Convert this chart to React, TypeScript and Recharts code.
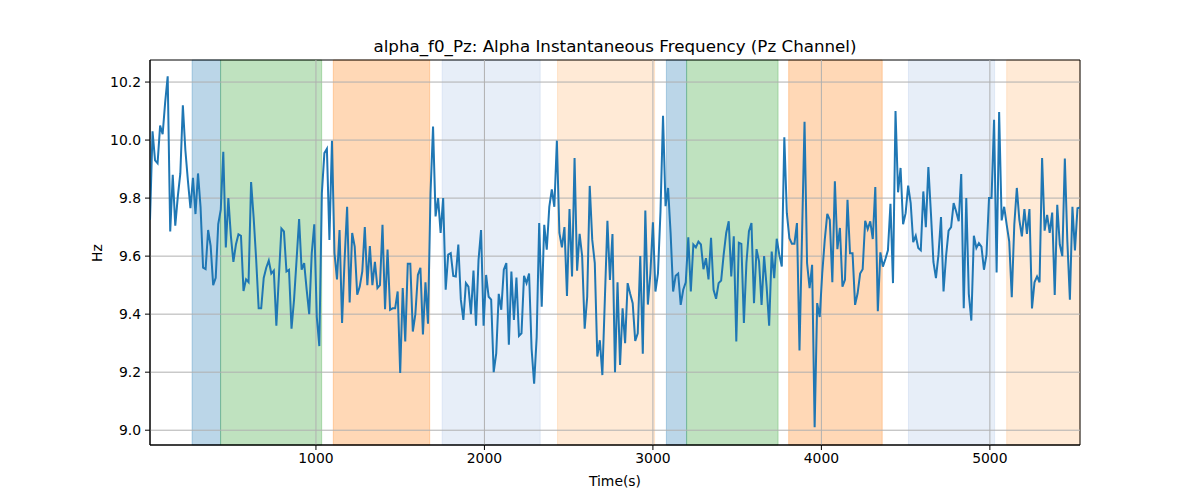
import React from "react";
import {
  LineChart,
  Line,
  XAxis,
  YAxis,
  ReferenceArea,
  ReferenceLine,
} from "recharts";

// alpha instantaneous frequency (Hz), sampled every 15 s from t = 15 s
const T0 = 15;
const STEP = 15;

const freqPart1 = [
  9.725, 10.03, 9.93, 9.92, 10.05, 10.02, 10.13, 10.22, 9.685, 9.88, 9.705, 9.805,
  9.885, 10.12, 9.965, 9.86, 9.765, 9.87, 9.745, 9.885, 9.77, 9.56, 9.555, 9.69,
  9.635, 9.5, 9.525, 9.71, 9.76, 9.96, 9.63, 9.8, 9.67, 9.58, 9.64, 9.675,
  9.67, 9.48, 9.52, 9.51, 9.855, 9.735, 9.59, 9.42, 9.42, 9.525, 9.56, 9.585,
];
const freqPart2 = [
  9.54, 9.55, 9.36, 9.53, 9.695, 9.685, 9.547, 9.553, 9.35, 9.45, 9.587, 9.728,
  9.553, 9.576, 9.484, 9.4, 9.61, 9.71, 9.39, 9.29, 9.817, 9.955, 9.97, 9.656,
  9.998, 9.61, 9.52, 9.69, 9.37, 9.587, 9.77, 9.44, 9.68, 9.633, 9.467, 9.495,
  9.547, 9.7, 9.5, 9.635, 9.5, 9.58, 9.49, 9.5, 9.708, 9.417, 9.623, 9.415,
];
const freqPart3 = [
  9.42, 9.42, 9.478, 9.197, 9.49, 9.306, 9.574, 9.574, 9.34, 9.4, 9.535, 9.56,
  9.33, 9.51, 9.367, 9.817, 10.047, 9.737, 9.8, 9.68, 9.8, 9.484, 9.605, 9.61,
  9.532, 9.53, 9.64, 9.45, 9.38, 9.507, 9.495, 9.4, 9.55, 9.36, 9.587, 9.69,
  9.36, 9.535, 9.46, 9.45, 9.2, 9.265, 9.47, 9.415, 9.553, 9.576, 9.295,
];
const freqPart4 = [
  9.547, 9.38, 9.526, 9.325, 9.334, 9.532, 9.507, 9.54, 9.28, 9.16, 9.32, 9.714,
  9.426, 9.708, 9.622, 9.77, 9.83, 9.77, 9.998, 9.68, 9.63, 9.7, 9.463, 9.762,
  9.53, 9.938, 9.55, 9.677, 9.6, 9.35, 9.46, 9.842, 9.656, 9.576, 9.254, 9.31,
  9.19, 9.455, 9.722, 9.518, 9.676, 9.2, 9.51, 9.225, 9.42, 9.3, 9.507, 9.47,
];
const freqPart5 = [
  9.438, 9.308, 9.334, 9.6, 9.264, 9.757, 9.433, 9.54, 9.717, 9.478, 9.54, 9.754,
  10.084, 9.772, 9.835, 9.68, 9.478, 9.532, 9.54, 9.432, 9.484, 9.51, 9.665, 9.478,
  9.64, 9.63, 9.65, 9.64, 9.555, 9.593, 9.52, 9.663, 9.484, 9.453, 9.507, 9.516,
  9.605, 9.68, 9.72, 9.53, 9.668, 9.306, 9.646, 9.642, 9.37, 9.576, 9.686,
];
const freqPart6 = [
  9.714, 9.438, 9.624, 9.582, 9.432, 9.6, 9.495, 9.36, 9.616, 9.524, 9.66, 9.605,
  9.564, 10.01, 9.748, 9.662, 9.643, 9.643, 9.714, 9.275, 9.668, 10.063, 9.576, 9.49,
  9.57, 9.01, 9.438, 9.39, 9.54, 9.656, 9.746, 9.725, 9.51, 9.858, 9.624, 9.697,
  9.495, 9.518, 9.794, 9.61, 9.61, 9.432, 9.472, 9.54, 9.555, 9.722, 9.693, 9.72,
];
const freqPart7 = [
  9.659, 9.838, 9.41, 9.613, 9.564, 9.59, 9.62, 9.78, 9.507, 10.1, 9.82, 9.904,
  9.71, 9.748, 9.843, 9.783, 9.648, 9.67, 9.628, 9.62, 9.823, 9.7, 9.907, 9.75,
  9.58, 9.524, 9.605, 9.735, 9.478, 9.6, 9.688, 9.7, 9.783, 9.754, 9.72, 9.883,
  9.42, 9.8, 9.47, 9.378, 9.67, 9.628, 9.645, 9.633, 9.553, 9.605, 9.8,
];
const freqPart8 = [
  9.8, 10.07, 9.544, 10.097, 9.723, 9.77, 9.708, 9.65, 9.458, 9.708, 9.835, 9.725,
  9.668, 9.762, 9.677, 9.762, 9.42, 9.51, 9.53, 9.51, 9.938, 9.688, 9.742, 9.68,
  9.75, 9.466, 9.777, 9.64, 9.6, 9.936, 9.65, 9.45, 9.77, 9.62, 9.765, 9.768,
];

// shaded condition segments (seconds)
const bandStart = [265, 434, 1103, 1749, 2434, 3080, 3200, 3806, 4517, 5100];
const bandEnd = [434, 1034, 1675, 2331, 3010, 3200, 3743, 4361, 5028, 5535];
const bandKind = ["a", "b", "c", "d", "e", "a", "b", "c", "d", "e"];

const xTicks = [1000, 2000, 3000, 4000, 5000];
const yTicks = [9.0, 9.2, 9.4, 9.6, 9.8, 10.0, 10.2];

const bandColor: Record<string, string> = {
  a: "#1f77b4",
  b: "#2ca02c",
  c: "#ff7f0e",
  d: "#aec7e8",
  e: "#ffbb78",
};

const freq = [
  ...freqPart1,
  ...freqPart2,
  ...freqPart3,
  ...freqPart4,
  ...freqPart5,
  ...freqPart6,
  ...freqPart7,
  ...freqPart8,
];
const data = freq.map((v, i) => ({ t: T0 + i * STEP, hz: v }));
const xMin = T0;
const xMax = T0 + (freq.length - 1) * STEP;
const yMin = 8.949;
const yMax = 10.276;

const font = "'DejaVu Sans', sans-serif";
const tickStyle = { fontSize: 13.9, fill: "#000", fontFamily: font };
const gridColor = "#b0b0b0";

export default function App() {
  return (
    <div
      style={{
        position: "absolute",
        left: 0,
        top: 0,
        width: 1200,
        height: 500,
        background: "#fff",
        fontFamily: font,
      }}
    >
      <div
        style={{
          position: "absolute",
          left: 150,
          width: 930,
          top: 36,
          lineHeight: "20px",
          fontSize: 16.7,
          textAlign: "center",
          color: "#000",
        }}
      >
        alpha_f0_Pz: Alpha Instantaneous Frequency (Pz Channel)
      </div>
      <LineChart
        width={1200}
        height={500}
        data={data}
        margin={{ top: 60, right: 120, bottom: 15, left: 0 }}
      >
        {bandStart.map((s, i) => (
          <ReferenceArea
            key={"band" + i}
            x1={s}
            x2={bandEnd[i]}
            fill={bandColor[bandKind[i]]}
            fillOpacity={0.3}
            stroke={bandColor[bandKind[i]]}
            strokeOpacity={0.3}
          />
        ))}
        {/* grid sits above the shaded bands, like matplotlib */}
        {xTicks.map((t) => (
          <ReferenceLine key={"gx" + t} x={t} stroke={gridColor} strokeWidth={1} />
        ))}
        {yTicks.map((t) => (
          <ReferenceLine key={"gy" + t} y={t} stroke={gridColor} strokeWidth={1} />
        ))}
        <XAxis
          dataKey="t"
          type="number"
          domain={[xMin, xMax]}
          ticks={xTicks}
          allowDataOverflow
          height={40}
          tickSize={5}
          tickMargin={3}
          tick={tickStyle}
          stroke="#000"
        />
        <YAxis
          type="number"
          domain={[yMin, yMax]}
          ticks={yTicks}
          allowDataOverflow
          width={150}
          tickSize={5}
          tickMargin={4}
          tick={tickStyle}
          tickFormatter={(v: number) => v.toFixed(1)}
          stroke="#000"
        />
        <Line
          type="linear"
          dataKey="hz"
          stroke="#1f77b4"
          strokeWidth={2}
          dot={false}
          isAnimationActive={false}
        />
        <ReferenceArea
          x1={xMin}
          x2={xMax}
          y1={yMin}
          y2={yMax}
          fill="none"
          stroke="#000"
          strokeWidth={1}
        />
      </LineChart>
      <div
        style={{
          position: "absolute",
          left: 150,
          width: 930,
          top: 472,
          lineHeight: "18px",
          fontSize: 13.9,
          textAlign: "center",
          color: "#000",
        }}
      >
        Time(s)
      </div>
      <div
        style={{
          position: "absolute",
          left: 97,
          top: 253,
          fontSize: 13.9,
          color: "#000",
          transform: "translate(-50%, -50%) rotate(-90deg)",
          lineHeight: "18px",
        }}
      >
        Hz
      </div>
    </div>
  );
}
